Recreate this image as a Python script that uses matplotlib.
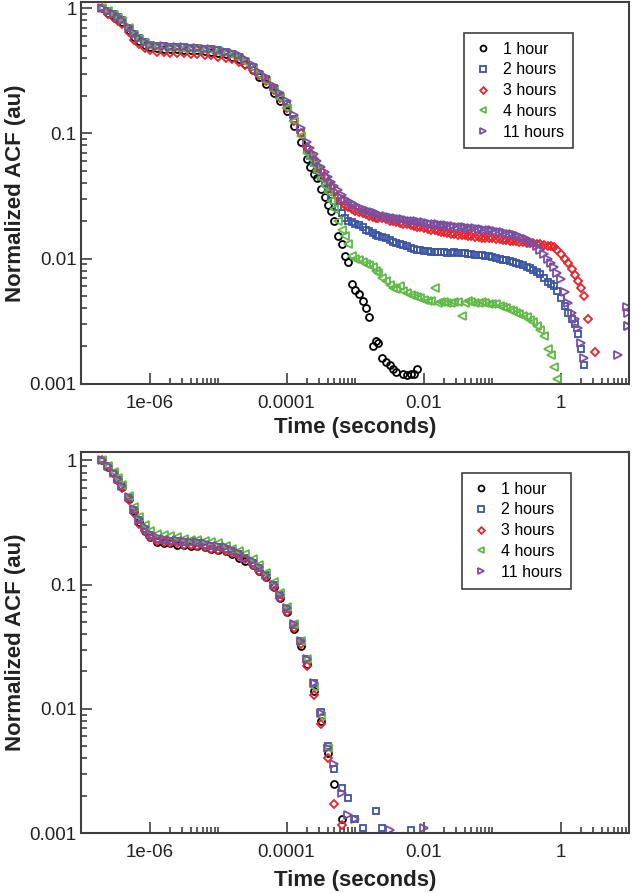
import numpy as np
import matplotlib
matplotlib.use("Agg")
import matplotlib.pyplot as plt
from matplotlib.ticker import FixedLocator, FixedFormatter, NullFormatter

plt.rcParams['font.family'] = ['Liberation Sans', 'DejaVu Sans']

nan = np.nan

## data
# lag times (seconds), shared by both panels
t = [2.0e-7, 2.5e-7, 3.0e-7, 3.5e-7, 4.0e-7, 5.0e-7, 6.0e-7, 7.0e-7, 8.5e-7,
     1.0e-6, 1.3e-6, 1.6e-6, 2.0e-6, 2.5e-6, 3.2e-6, 4.0e-6, 5.0e-6, 6.5e-6, 8.0e-6,
     1.0e-5, 1.3e-5, 1.6e-5, 2.0e-5, 2.5e-5, 3.2e-5, 4.0e-5, 5.0e-5, 6.5e-5, 8.0e-5,
     1.0e-4, 1.3e-4, 1.6e-4, 2.0e-4, 2.5e-4, 3.2e-4, 4.0e-4, 5.0e-4, 6.5e-4, 8.0e-4,
     1.0e-3, 1.3e-3, 1.6e-3, 2.0e-3, 2.5e-3, 3.2e-3, 4.0e-3, 5.0e-3, 6.5e-3, 8.0e-3,
     1.0e-2, 1.3e-2, 1.6e-2, 2.0e-2, 2.5e-2, 3.2e-2, 4.0e-2, 5.0e-2, 6.5e-2, 8.0e-2,
     0.10, 0.13, 0.16, 0.20, 0.25, 0.32, 0.40, 0.50, 0.65, 0.80,
     1.0, 1.3, 1.6, 2.0, 2.5, 3.2]
# extra lag times in the long tail of the top panel
t_mid = [2.2e-4, 2.8e-4, 3.6e-4, 4.5e-4, 5.7e-4, 7.2e-4, 9.0e-4,
         1.15e-3, 1.45e-3, 1.8e-3, 2.2e-3, 2.8e-3, 3.6e-3, 4.5e-3, 5.7e-3, 7.2e-3, 9.0e-3,
         1.15e-2, 1.45e-2, 1.8e-2, 2.2e-2, 2.8e-2, 3.6e-2, 4.5e-2, 5.7e-2, 7.2e-2, 9.0e-2,
         0.115, 0.145, 0.18, 0.22, 0.28, 0.36, 0.45, 0.57, 0.72, 0.90,
         1.15, 1.45, 1.8, 2.2, 2.8]

labels = ["1 hour", "2 hours", "3 hours", "4 hours", "11 hours"]

# top panel
h1_top = [1.00, 0.92, 0.86, 0.82, 0.77, 0.67, 0.59, 0.55, 0.51, 0.49,
          0.48, 0.475, 0.47, 0.47, 0.465, 0.46, 0.46, 0.455, 0.45, 0.44,
          0.43, 0.41, 0.39, 0.36, 0.32, 0.28, 0.25, 0.21, 0.18, 0.15, 0.115, 0.085,
          0.062, 0.047, 0.036, 0.027, 0.020, 0.013, 0.0093, 0.0056, 0.0046, 0.0034,
          0.0022, 0.0016, 0.0014, 0.00125, 0.0012, 0.0012, 0.0013]
h2_top = [1.00, 0.95, 0.89, 0.85, 0.80, 0.70, 0.62, 0.58, 0.54, 0.51,
          0.50, 0.495, 0.49, 0.49, 0.485, 0.48, 0.48, 0.475, 0.47, 0.46,
          0.45, 0.43, 0.41, 0.38, 0.34, 0.30, 0.27, 0.23, 0.20, 0.17, 0.13, 0.10,
          0.075, 0.058, 0.045, 0.036, 0.029, 0.023, 0.020, 0.019, 0.018, 0.0165,
          0.0155, 0.0148, 0.014, 0.0133, 0.0128, 0.0122, 0.0117, 0.0115, 0.0113, 0.0112,
          0.0112, 0.0111, 0.0111, 0.0110, 0.0108, 0.0106, 0.0105, 0.0103, 0.0100, 0.0097,
          0.0093, 0.0090, 0.0086, 0.0081, 0.0075, 0.0065, 0.0060, 0.0048, 0.0037, 0.0030, 0.0019]
h3_top = [1.00, 0.90, 0.84, 0.79, 0.74, 0.64, 0.56, 0.52, 0.48, 0.46,
          0.45, 0.445, 0.44, 0.44, 0.435, 0.43, 0.43, 0.425, 0.42, 0.41,
          0.40, 0.39, 0.37, 0.35, 0.32, 0.29, 0.26, 0.22, 0.19, 0.16, 0.125, 0.10,
          0.078, 0.062, 0.050, 0.041, 0.034, 0.029, 0.026, 0.024, 0.023, 0.022,
          0.021, 0.021, 0.020, 0.0195, 0.019, 0.0185, 0.018, 0.0175, 0.017, 0.0165,
          0.0162, 0.0158, 0.0155, 0.0153, 0.0150, 0.0148, 0.0147, 0.0145, 0.0142, 0.0140,
          0.0138, 0.0136, 0.0134, 0.0132, 0.0130, 0.0127, 0.0123, 0.0108, 0.0092, 0.0074,
          0.0058, 0.0033, 0.0018]
h4_top = [1.00, 0.94, 0.88, 0.83, 0.79, 0.69, 0.61, 0.57, 0.53, 0.50,
          0.49, 0.485, 0.48, 0.48, 0.475, 0.47, 0.47, 0.465, 0.46, 0.45,
          0.44, 0.42, 0.40, 0.37, 0.33, 0.29, 0.26, 0.22, 0.19, 0.16, 0.125, 0.095,
          0.070, 0.056, 0.044, 0.034, 0.025, 0.017, 0.013, 0.010, 0.0094, 0.0088,
          0.0080, 0.0070, 0.0062, 0.0057, 0.0055, 0.0051, 0.0049, 0.0047, 0.0046, 0.0044,
          0.0045, 0.0044, 0.0045, 0.0044, 0.0045, 0.0044, 0.0044, 0.0043, 0.0042, 0.0040,
          0.0038, 0.0036, 0.0034, 0.0031, 0.0027, 0.0019, 0.00135]
h11_top = [1.00, 0.95, 0.90, 0.85, 0.81, 0.71, 0.63, 0.58, 0.54, 0.51,
           0.50, 0.495, 0.49, 0.49, 0.485, 0.48, 0.48, 0.475, 0.47, 0.46,
           0.45, 0.44, 0.42, 0.39, 0.35, 0.31, 0.28, 0.24, 0.21, 0.18, 0.14, 0.11,
           0.085, 0.068, 0.054, 0.045, 0.038, 0.032, 0.029, 0.027, 0.025, 0.024,
           0.023, 0.022, 0.0215, 0.021, 0.0205, 0.020, 0.020, 0.0195, 0.019, 0.0188,
           0.0185, 0.0182, 0.018, 0.0178, 0.0175, 0.0172, 0.017, 0.0168, 0.0163, 0.016,
           0.0157, 0.0150, 0.0142, 0.0132, 0.0118, 0.0100, 0.0085, 0.0068, 0.0044, 0.0033,
           0.0021]
# top panel values at t_mid
h1_mid = [0.054, 0.044, 0.031, 0.024, 0.015, 0.0105, 0.0063,
          0.0052, 0.0040, 0.0020, 0.0021, 0.0015, 0.0013, nan, 0.00118, 0.0012]
h2_mid = [0.066, 0.051, 0.040, 0.032, 0.026, 0.021, 0.0195,
          0.0185, 0.017, 0.016, 0.015, 0.0145, 0.0136, 0.013, 0.0125, 0.012, 0.0116,
          0.0114, 0.0112, 0.0113, 0.0111, 0.0112, 0.0110, 0.0109, 0.0107, 0.0106, 0.0104,
          0.0101, 0.0098, 0.0095, 0.0092, 0.0088, 0.0084, 0.0078, 0.0070, 0.0063, 0.0055,
          0.0042, 0.0033, 0.0025, 0.0014]
h3_mid = [0.069, 0.055, 0.045, 0.037, 0.031, 0.027, 0.025,
          0.0235, 0.0225, 0.0215, 0.021, 0.0205, 0.0198, 0.0192, 0.0188, 0.0182, 0.0178,
          0.0172, 0.0168, 0.0163, 0.0160, 0.0157, 0.0154, 0.0151, 0.0149, 0.0147, 0.0146,
          0.0143, 0.0141, 0.0139, 0.0137, 0.0135, 0.0133, 0.0131, 0.0128, 0.0125, 0.0118,
          0.0100, 0.0083, 0.0066, 0.0050]
h4_mid = [0.063, 0.050, 0.038, 0.029, 0.020, 0.015, 0.0105,
          0.0097, 0.0090, 0.0085, 0.0076, 0.0066, 0.0058, 0.0060, 0.0053, 0.0050, 0.0048,
          0.0046, 0.0058, 0.0045, 0.0044, 0.0045, 0.0035, 0.0046, 0.0044, 0.0045, 0.0043,
          0.0043, 0.0041, 0.0039, 0.0037, 0.0035, 0.0032, 0.0029, 0.0024, 0.0017, 0.0011]
h11_mid = [0.076, 0.060, 0.049, 0.041, 0.035, 0.030, 0.028,
           0.026, 0.0245, 0.0235, 0.0225, 0.022, 0.0212, 0.0208, 0.0203, 0.0200, 0.0197,
           0.0192, 0.0189, 0.0186, 0.0184, 0.0181, 0.0179, 0.0176, 0.0174, 0.0171, 0.0169,
           0.0165, 0.0162, 0.0158, 0.0154, 0.0146, 0.0137, 0.0125, 0.0109, 0.0092, 0.0076,
           0.0054, 0.0037, 0.0028, 0.0016]
# stray 11 hour points at long lag times
h11_top_t_extra = [6.9, 9.3, 9.7, 9.8, 9.6]
h11_top_extra = [0.0017, 0.0041, 0.0037, 0.0029, 0.0029]

# bottom panel
h1_bot = [1.00, 0.89, 0.79, 0.69, 0.61, 0.49, 0.39, 0.32, 0.27, 0.24,
          0.22, 0.215, 0.215, 0.21, 0.21, 0.205, 0.205, 0.20, 0.195, 0.19,
          0.185, 0.175, 0.165, 0.155, 0.145, 0.13, 0.115, 0.095, 0.078, 0.060, 0.044, 0.032,
          0.023, 0.014, 0.0080, 0.0044, 0.0025, 0.0013]
h2_bot = [1.00, 0.90, 0.80, 0.70, 0.62, 0.50, 0.40, 0.33, 0.28, 0.25,
          0.235, 0.23, 0.225, 0.225, 0.22, 0.22, 0.215, 0.21, 0.205, 0.20,
          0.195, 0.185, 0.175, 0.165, 0.15, 0.135, 0.12, 0.10, 0.082, 0.064, 0.047, 0.035,
          0.025, 0.016, 0.0095, 0.0050, 0.0033, 0.0023, 0.0019, 0.0013, 0.0011, nan,
          0.0015, 0.0011, nan, nan, nan, 0.00105]
h3_bot = [1.00, 0.88, 0.78, 0.68, 0.60, 0.48, 0.38, 0.31, 0.27, 0.24,
          0.225, 0.22, 0.215, 0.215, 0.21, 0.21, 0.205, 0.20, 0.195, 0.19,
          0.185, 0.18, 0.17, 0.16, 0.145, 0.13, 0.115, 0.095, 0.078, 0.060, 0.045, 0.033,
          0.022, 0.013, 0.0075, 0.0040, 0.0017, 0.00115]
h4_bot = [1.00, 0.91, 0.81, 0.72, 0.64, 0.52, 0.42, 0.35, 0.30, 0.27,
          0.255, 0.25, 0.245, 0.24, 0.235, 0.23, 0.23, 0.225, 0.22, 0.215,
          0.205, 0.195, 0.185, 0.175, 0.16, 0.145, 0.125, 0.105, 0.085, 0.066, 0.048, 0.035,
          0.025, 0.015, 0.0088, 0.0048]
h11_bot = [1.00, 0.91, 0.80, 0.71, 0.62, 0.51, 0.41, 0.34, 0.29, 0.255,
           0.24, 0.235, 0.23, 0.23, 0.225, 0.22, 0.22, 0.215, 0.21, 0.205,
           0.20, 0.19, 0.18, 0.165, 0.155, 0.14, 0.12, 0.10, 0.083, 0.065, 0.048, 0.035,
           0.025, 0.016, 0.0093, 0.0048, 0.0036, 0.0021, 0.0014, 0.0013, nan, nan,
           nan, nan, 0.00105, nan, nan, nan, nan, 0.0011]

## style
colors = ["#000000", "#3b55a6", "#e8232b", "#5fba46", "#7a4fa2"]
markers = ["o", "s", "D", "<", ">"]
msizes = [5.0, 4.6, 4.0, 5.2, 5.2]
spine_c = "#404040"
xmaj = [1e-6, 1e-4, 1e-2, 1]
xmaj_lab = ["1e-06", "0.0001", "0.01", "1"]
xmin_t = [k * d for d in xmaj for k in range(2, 11)]
ymaj = [1, 0.1, 0.01, 0.001]
ymaj_lab = ["1", "0.1", "0.01", "0.001"]
ymin_t = [k * d for d in [0.001, 0.01, 0.1] for k in range(2, 10)]


def style_axes(ax, ytop, legend_anchor):
    ax.set_xscale("log")
    ax.set_yscale("log")
    ax.set_xlim(1e-7, 10)
    ax.set_ylim(0.001, ytop)
    ax.xaxis.set_major_locator(FixedLocator(xmaj))
    ax.xaxis.set_major_formatter(FixedFormatter(xmaj_lab))
    ax.xaxis.set_minor_locator(FixedLocator(xmin_t))
    ax.xaxis.set_minor_formatter(NullFormatter())
    ax.yaxis.set_major_locator(FixedLocator(ymaj))
    ax.yaxis.set_major_formatter(FixedFormatter(ymaj_lab))
    ax.yaxis.set_minor_locator(FixedLocator(ymin_t))
    ax.yaxis.set_minor_formatter(NullFormatter())
    ax.tick_params(which="both", direction="in", top=False, right=False,
                   color=spine_c, width=1.2, labelsize=13.5, labelcolor="#222222")
    ax.tick_params(which="major", length=8)
    ax.tick_params(which="minor", length=4.5)
    ax.tick_params(axis="x", which="major", pad=8)
    ax.tick_params(axis="y", which="major", pad=3)
    for s in ax.spines.values():
        s.set_color(spine_c)
        s.set_linewidth(1.5)
    ax.set_xlabel("Time (seconds)", fontsize=16, fontweight="bold", color="#222222")
    ax.set_ylabel("Normalized ACF (au)", fontsize=16, fontweight="bold", color="#222222")
    ax.yaxis.set_label_coords(-0.100, 0.5)
    leg = ax.legend(loc="upper right", bbox_to_anchor=legend_anchor, fontsize=11.5,
                    frameon=True, fancybox=False, framealpha=1, edgecolor=spine_c,
                    handlelength=1.3, handletextpad=0.6, labelspacing=0.36,
                    borderpad=0.55, borderaxespad=0, markerscale=0.85)
    leg.get_frame().set_linewidth(1.2)


fig = plt.figure(figsize=(6.34, 8.94), dpi=100)
ax1 = fig.add_axes([0.1278, 0.5708, 0.8644, 0.427])
ax2 = fig.add_axes([0.1278, 0.0682, 0.8644, 0.4262])

top_series = [(h1_top, h1_mid), (h2_top, h2_mid), (h3_top, h3_mid),
              (h4_top, h4_mid), (h11_top, h11_mid)]
bot_series = [h1_bot, h2_bot, h3_bot, h4_bot, h11_bot]

# top panel: main grid plus the extra tail points, one series at a time
for (y, ym), c, m, ms, lab in zip(top_series, colors, markers, msizes, labels):
    tt = t[:len(y)] + t_mid[:len(ym)]
    yy = y + ym
    ax1.plot(tt, yy, ls="none", marker=m, ms=ms, mfc="none",
             mec=c, mew=1.3, label=lab)
    if lab == "11 hours":
        ax1.plot(h11_top_t_extra, h11_top_extra, ls="none", marker=m, ms=ms,
                 mfc="none", mec=c, mew=1.3)

for y, c, m, ms, lab in zip(bot_series, colors, markers, msizes, labels):
    ax2.plot(t[:len(y)], y, ls="none", marker=m, ms=ms, mfc="none",
             mec=c, mew=1.3, label=lab)

style_axes(ax1, 1.12, (0.898, 0.919))
style_axes(ax2, 1.17, (0.894, 0.945))
ax1.xaxis.set_label_coords(0.5, -0.088)
ax2.xaxis.set_label_coords(0.5, -0.097)

fig.savefig("out.png", dpi=100)
